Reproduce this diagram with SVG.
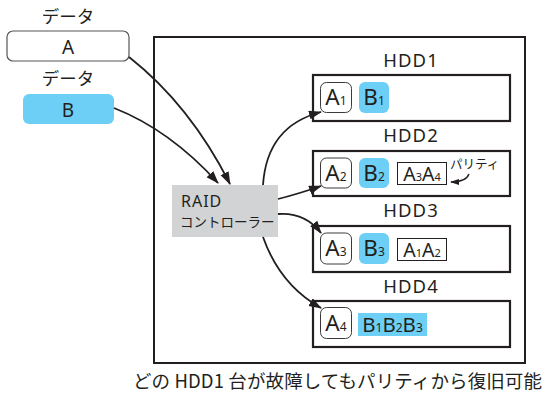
<svg xmlns="http://www.w3.org/2000/svg" width="550" height="396" viewBox="0 0 550 396">
<defs>
<style>
text{font-family:"Noto Sans","Noto Sans CJK JP",sans-serif;fill:#231f20}
.jp{font-family:"Noto Sans CJK JP",sans-serif}
.hdd{fill:#fff;stroke:#231f20;stroke-width:2.2}
.chip{fill:#fff;stroke:#3a3a3a;stroke-width:1}
.cyan{fill:#6dcff6}
.par{fill:#fff;stroke:#231f20;stroke-width:1}
.lbl{font-size:18.5px;letter-spacing:1.1px;text-anchor:middle}
.big{font-size:22.5px;text-anchor:middle}
.mid{text-anchor:middle}
.con{fill:none;stroke:#231f20;stroke-width:1.8;marker-end:url(#ah)}
</style>
<marker id="ah" markerUnits="userSpaceOnUse" markerWidth="14" markerHeight="10" refX="12" refY="4.5" orient="auto">
<path d="M0,0 L13,4.5 L0,9 z" fill="#231f20"/>
</marker>
<marker id="ahs" markerUnits="userSpaceOnUse" markerWidth="10" markerHeight="8" refX="8" refY="3" orient="auto">
<path d="M0,0 L9,3 L0,6 z" fill="#231f20"/>
</marker>
</defs>
<rect width="550" height="396" fill="#fff"/>

<g id="dataA">
<text class="jp" x="68" y="23" font-size="17.5" text-anchor="middle">データ</text>
<rect x="7" y="31" width="122" height="30" rx="6" fill="#fff" stroke="#555" stroke-width="1.2"/>
<text x="68" y="53.5" font-size="19" text-anchor="middle">A</text>
</g>
<g id="dataB">
<text class="jp" x="68" y="85" font-size="17.5" text-anchor="middle">データ</text>
<rect x="23" y="94" width="91" height="30" rx="6" class="cyan"/>
<text x="68" y="116.5" font-size="19" text-anchor="middle">B</text>
</g>

<g id="array">
<rect x="154" y="37" width="371" height="326" fill="none" stroke="#231f20" stroke-width="2"/>
</g>

<g id="controller">
<rect x="172" y="185" width="106" height="52" fill="#d1d3d4"/>
<text x="181" y="207" font-size="16" letter-spacing="1">RAID</text>
<text class="jp" x="180" y="227" font-size="13.5">コントローラー</text>
</g>

<g id="hdd1">
<text class="lbl" x="411" y="67">HDD1</text>
<rect class="hdd" x="313" y="75" width="197" height="46"/>
<rect class="chip" x="320.5" y="82.5" width="31" height="30" rx="6"/>
<text class="big" x="336" y="104.5">A<tspan font-size="12">1</tspan></text>
<rect class="cyan" x="359" y="82" width="30" height="31" rx="6"/>
<text class="big" x="374" y="104.5">B<tspan font-size="12">1</tspan></text>
</g>

<g id="hdd2">
<text class="lbl" x="411" y="142">HDD2</text>
<rect class="hdd" x="313" y="151" width="197" height="45"/>
<rect class="chip" x="320.5" y="158" width="31" height="30" rx="6"/>
<text class="big" x="336" y="180.5">A<tspan font-size="12">2</tspan></text>
<rect class="cyan" x="359" y="158" width="30" height="30" rx="6"/>
<text class="big" x="374" y="180.5">B<tspan font-size="12">2</tspan></text>
<rect class="par" x="397.5" y="162.5" width="49" height="22"/>
<text class="mid" x="422" y="181" font-size="19.5">A<tspan font-size="11">3</tspan>A<tspan font-size="11">4</tspan></text>
<text class="jp" x="450" y="169" font-size="12.5">パリティ</text>
<path d="M469,174 Q466,182 451,182" fill="none" stroke="#231f20" stroke-width="1.4" marker-end="url(#ahs)"/>
</g>

<g id="hdd3">
<text class="lbl" x="411" y="217">HDD3</text>
<rect class="hdd" x="313" y="226" width="197" height="46"/>
<rect class="chip" x="320.5" y="233" width="31" height="31" rx="6"/>
<text class="big" x="336" y="256">A<tspan font-size="12">3</tspan></text>
<rect class="cyan" x="359" y="233" width="30" height="31" rx="6"/>
<text class="big" x="374" y="256">B<tspan font-size="12">3</tspan></text>
<rect class="par" x="397.5" y="238.5" width="49" height="22"/>
<text class="mid" x="422" y="257" font-size="19.5">A<tspan font-size="11">1</tspan>A<tspan font-size="11">2</tspan></text>
</g>

<g id="hdd4">
<text class="lbl" x="411" y="293">HDD4</text>
<rect class="hdd" x="313" y="301" width="197" height="46"/>
<rect class="chip" x="320.5" y="307.5" width="31" height="31" rx="6"/>
<text class="big" x="336" y="330.5">A<tspan font-size="12">4</tspan></text>
<rect class="cyan" x="358" y="313" width="69" height="23"/>
<text class="mid" x="392.5" y="331.5" font-size="20.5">B<tspan font-size="12">1</tspan>B<tspan font-size="12">2</tspan>B<tspan font-size="12">3</tspan></text>
</g>

<g id="connectors">
<path class="con" d="M129,57 Q190,105 230,184"/>
<path class="con" d="M114,108 Q170,130 218,183"/>
<path class="con" d="M263,185 C266,140 290,120 321,112"/>
<path class="con" d="M278,199 Q298,194 321,186"/>
<path class="con" d="M278,214 Q305,212 321,233"/>
<path class="con" d="M263,237 Q280,285 321,308"/>
</g>

<text class="jp" x="133" y="388" font-size="18.5" textLength="409" lengthAdjust="spacing">どの HDD1 台が故障してもパリティから復旧可能</text>
</svg>
